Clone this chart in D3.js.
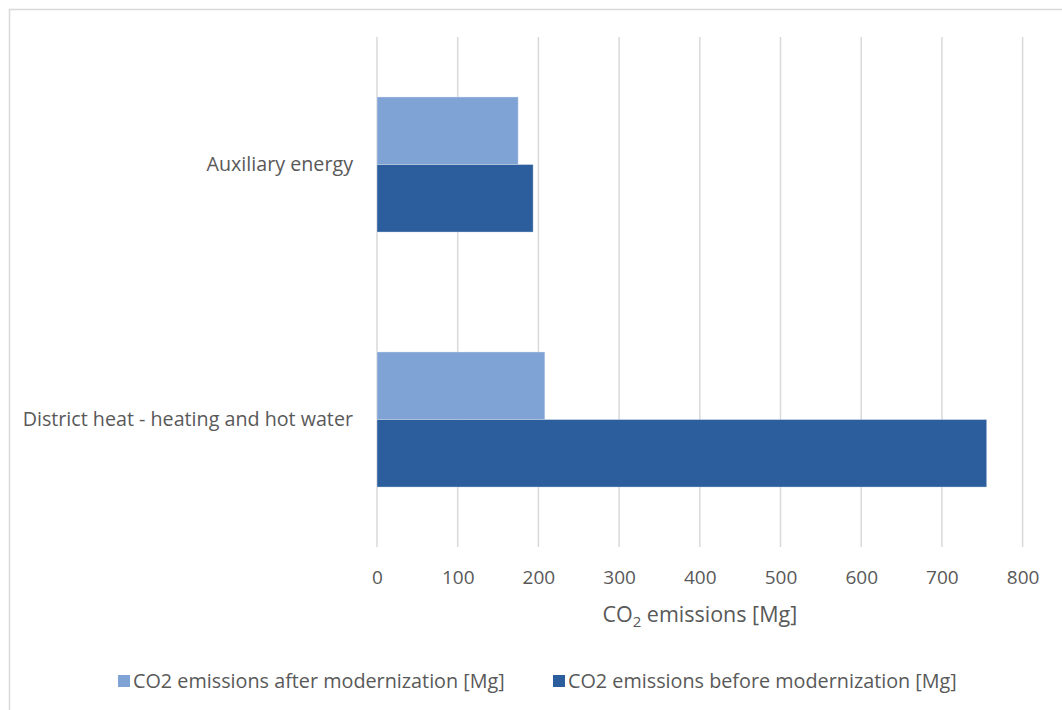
<!DOCTYPE html>
<html>
<head>
<meta charset="utf-8">
<style>
  body { margin: 0; background: #fff; }
  svg { display: block; }
  svg text { font-family: 'Open Sans', sans-serif; fill: #595959; }
</style>
</head>
<body>
<svg width="1062" height="710"></svg>
<script src="https://d3js.org/d3.v7.min.js"></script>
<script>
  // data
  const categories = ["Auxiliary energy", "District heat - heating and hot water"];
  const seriesNames = ["CO2 emissions after modernization [Mg]", "CO2 emissions before modernization [Mg]"];
  const afterValues = [175, 208];
  const beforeValues = [193.5, 755.5];
  const xTicks = [0, 100, 200, 300, 400, 500, 600, 700, 800];
  const colors = ["#80a3d6", "#2c5e9d"];

  const svg = d3.select("svg");

  // outer chart frame (only left and top edges show)
  svg.append("path")
    .attr("d", "M9.5,710 V9.5 H1062")
    .style("fill", "none")
    .style("stroke", "#d9d9d9")
    .style("stroke-width", 1.5);

  const plot = { left: 377, right: 1022.6, top: 37, bottom: 547 };

  const x = d3.scaleLinear().domain([0, 800]).range([plot.left, plot.right]);
  const y = d3.scaleBand().domain(categories).range([plot.top, plot.bottom])
    .paddingInner(0.47).paddingOuter(0.235);
  const ySub = d3.scaleBand().domain([0, 1]).range([0, y.bandwidth()]);

  // gridlines
  svg.append("g")
    .selectAll("line")
    .data(xTicks)
    .join("line")
    .attr("x1", d => x(d)).attr("x2", d => x(d))
    .attr("y1", plot.top).attr("y2", plot.bottom)
    .style("stroke", "#d9d9d9")
    .style("stroke-width", 1.5);

  // bars
  const rows = categories.map((c, i) => ({ cat: c, vals: [afterValues[i], beforeValues[i]] }));
  const groups = svg.append("g")
    .selectAll("g")
    .data(rows)
    .join("g")
    .attr("transform", d => `translate(0,${y(d.cat)})`);

  groups.selectAll("rect")
    .data(d => d.vals.map((v, k) => ({ v, k })))
    .join("rect")
    .attr("x", x(0))
    .attr("y", d => ySub(d.k))
    .attr("width", d => x(d.v) - x(0))
    .attr("height", ySub.bandwidth())
    .style("fill", d => colors[d.k])
    .style("stroke", "#ffffff")
    .style("stroke-opacity", 0.35)
    .style("stroke-width", 1);

  // x axis labels
  const xAxis = d3.axisBottom(x).tickValues(xTicks).tickSize(0).tickPadding(0);
  const gx = svg.append("g")
    .attr("transform", `translate(0,${plot.bottom + 23})`)
    .call(xAxis);
  gx.select(".domain").remove();
  gx.selectAll("text").style("font-size", "19px").attr("dy", "0.71em").attr("y", 0);

  // category labels
  const yAxis = d3.axisLeft(y).tickSize(0).tickPadding(24);
  const gy = svg.append("g")
    .attr("transform", `translate(${plot.left},0)`)
    .call(yAxis);
  gy.select(".domain").remove();
  gy.selectAll("text").style("font-size", "19.7px");

  // axis title
  const title = svg.append("text")
    .attr("x", (plot.left + plot.right) / 2)
    .attr("y", 622)
    .attr("text-anchor", "middle")
    .style("font-size", "21.5px");
  title.append("tspan").text("CO");
  title.append("tspan").text("2").attr("dy", 5).style("font-size", "15px");
  title.append("tspan").text(" emissions [Mg]").attr("dy", -5);

  // legend
  const legendX = [118, 553];
  const legend = svg.append("g")
    .selectAll("g")
    .data(seriesNames)
    .join("g")
    .attr("transform", (d, i) => `translate(${legendX[i]},675)`);
  legend.append("rect")
    .attr("width", 12).attr("height", 12)
    .style("fill", (d, i) => colors[i]);
  legend.append("text")
    .attr("x", 15).attr("y", 6).attr("dy", "0.35em")
    .style("font-size", "19.8px")
    .text(d => d);
</script>
</body>
</html>
